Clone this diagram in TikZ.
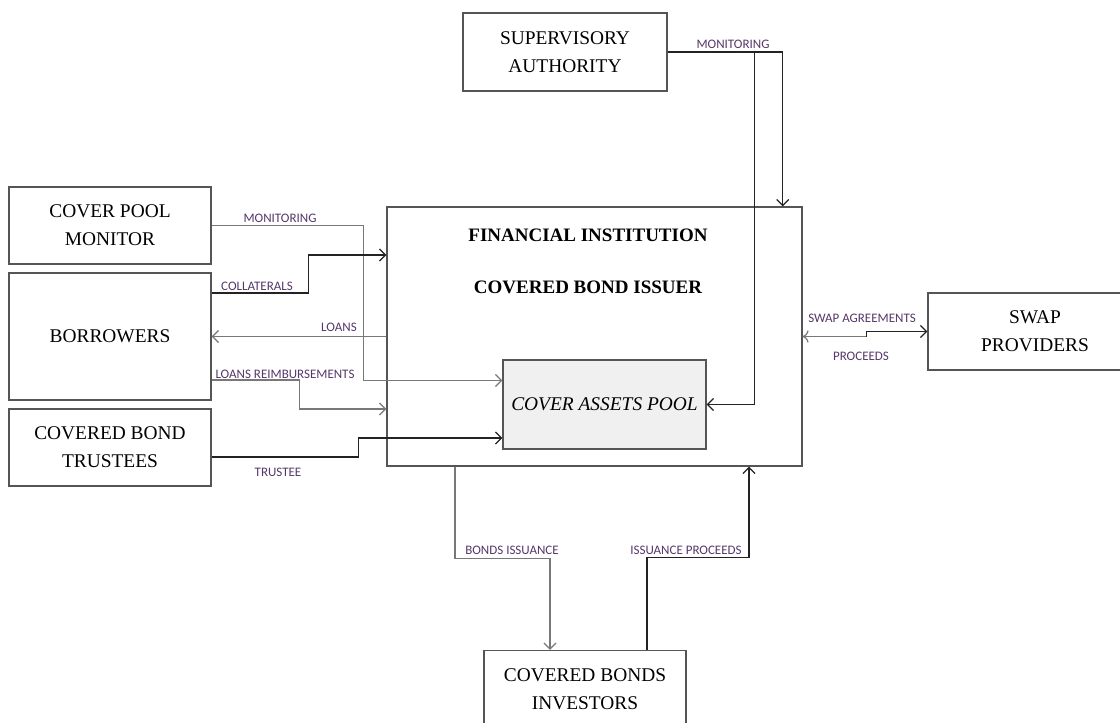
\documentclass[tikz,border=0pt]{standalone}
\usepackage{fontspec}
\setmainfont{Liberation Serif}
\newfontfamily\lblfont{Carlito}
\usetikzlibrary{arrows.meta}
\definecolor{boxgray}{RGB}{85,85,85}
\definecolor{linegray}{RGB}{120,120,120}
\definecolor{linedark}{RGB}{35,35,35}
\definecolor{lblcol}{RGB}{85,55,105}
\definecolor{poolfill}{RGB}{240,240,240}

\begin{document}
\begin{tikzpicture}[x=0.5pt, y=-0.5pt,
    box/.style={draw=boxgray, line width=0.7pt, align=center,
      minimum width=101pt, minimum height=38.5pt,
      font=\fontsize{9.7}{14}\selectfont},
    title/.style={font=\fontsize{9.5}{11}\selectfont\bfseries},
    lbl/.style={text=lblcol, inner sep=1pt, font=\lblfont\fontsize{6.5}{7.5}\selectfont},
    flow/.style={draw=linegray, line width=0.6pt, -{Straight Barb[length=3pt,width=6pt]}},
    flowdark/.style={flow, draw=linedark}]
    \useasboundingbox (0,0) rectangle (1120,723);

    % boxes
    \node[box, minimum width=102pt, minimum height=39pt] (sup) at (565,52) {SUPERVISORY\\AUTHORITY};
    \node[box] (mon) at (110,225.5) {COVER POOL\\MONITOR};
    \node[box, minimum height=63.5pt] (bor) at (110,336.5) {BORROWERS};
    \node[box] (trus) at (110,447.5) {COVERED BOND\\TRUSTEES};
    \node[box, minimum width=207.5pt, minimum height=129.5pt] (fi) at (594.5,336.5) {};
    \node[box, fill=poolfill, minimum width=101.5pt, minimum height=44.5pt] (pool) at (604.5,404.5) {\itshape COVER ASSETS POOL};
    \node[box, minimum width=107pt] (swap) at (1035,331.5) {SWAP\\PROVIDERS};
    \node[box] (inv) at (585,689) {COVERED BONDS\\INVESTORS};

    \node[title] (fititle) at (588,235) {FINANCIAL INSTITUTION};
    \node[title] (issuer) at (588,287) {COVERED BOND ISSUER};

    % connectors
    \draw[flowdark] (sup.east) -| ([xshift=-10pt]fi.north east);
    \draw[flowdark] (sup.east) -- ++(87,0) |- (pool.east);
    \draw[flow] (mon.east) -- ++(152,0) |- ([yshift=12pt]pool.west);
    \draw[flowdark] ([yshift=21.75pt]bor.east) -- ++(97,0) |- ([yshift=40.75pt]fi.west);
    \draw[flow] (fi.west) -- (bor.east);
    \draw[flow] ([yshift=-21.75pt]bor.east) -- ++(88,0) |- ([yshift=-36.25pt]fi.west);
    \draw[flowdark] ([yshift=-4.75pt]trus.east) -- ++(147,0) |- ([yshift=-16.75pt]pool.west);
    \draw[flow, <-] (fi.east) -- ++(64,0) coordinate (swapstep);
    \draw[flowdark] (swapstep) |- (swap.west);
    \draw[flow] ([xshift=-69.75pt]fi.south) -- ++(0,92) -| ([xshift=-17.5pt]inv.north);
    \draw[flowdark] ([xshift=31pt]inv.north) -- ++(0,-92) -| ([xshift=77.25pt]fi.south);

    % labels
    \node[lbl] (supmon) at (733,44) {MONITORING};
    \node[lbl] (monmon) at (280,218) {MONITORING};
    \node[lbl] (coll) at (257,286) {COLLATERALS};
    \node[lbl] (loans) at (339,327) {LOANS};
    \node[lbl] (reimb) at (285,374) {LOANS REIMBURSEMENTS};
    \node[lbl] (trustee) at (278,472) {TRUSTEE};
    \node[lbl] (swapag) at (862,318) {SWAP AGREEMENTS};
    \node[lbl] (proc) at (861,356) {PROCEEDS};
    \node[lbl] (bondiss) at (512,550) {BONDS ISSUANCE};
    \node[lbl] (issproc) at (686,550) {ISSUANCE PROCEEDS};
\end{tikzpicture}
\end{document}
